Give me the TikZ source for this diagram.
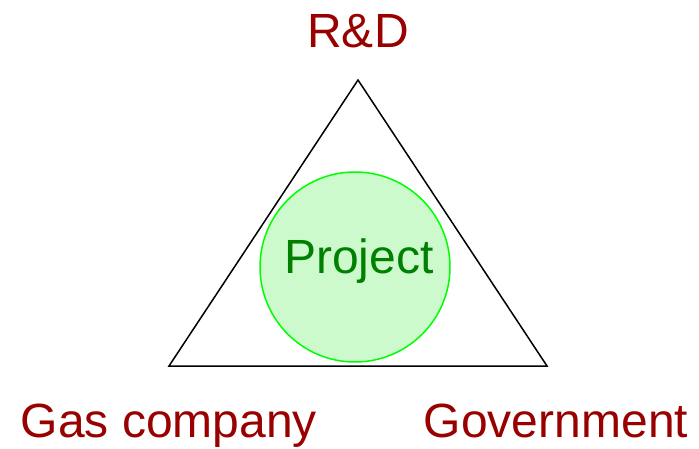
\documentclass[tikz,border=0pt]{standalone}
\usepackage{fontspec}
\setmainfont{Liberation Sans}
\definecolor{darkred}{RGB}{153,0,0}
\definecolor{projgreen}{RGB}{0,128,0}
\definecolor{ringgreen}{RGB}{0,255,0}
\definecolor{fillgreen}{RGB}{205,250,205}
\tikzset{
    corner/.style={text=darkred,font=\fontsize{48}{48}\selectfont,anchor=base,inner sep=0pt},
    project/.style={circle,draw=ringgreen,line width=1.5pt,fill=fillgreen,minimum size=190pt,inner sep=0pt}
}
\begin{document}
\begin{tikzpicture}[x=1pt,y=1pt]
    \useasboundingbox (0,0) rectangle (699,448);
    \coordinate (top) at (358,368);
    \coordinate (left) at (169,82);
    \coordinate (right) at (547,82);
    \draw[line width=1.5pt] (top) -- (left) -- (right) -- cycle;
    \node[project] (proj) at (355,181) {};
    \node[text=projgreen,font=\fontsize{48}{48}\selectfont,anchor=base,inner sep=0pt] (projtext) at (359,175) {Project};
    \node[corner] (rd) at (358,400) {R\&D};
    \node[corner] (gas) at (169,11) {Gas company};
    \node[corner] (gov) at (556,11) {Government};
\end{tikzpicture}
\end{document}
